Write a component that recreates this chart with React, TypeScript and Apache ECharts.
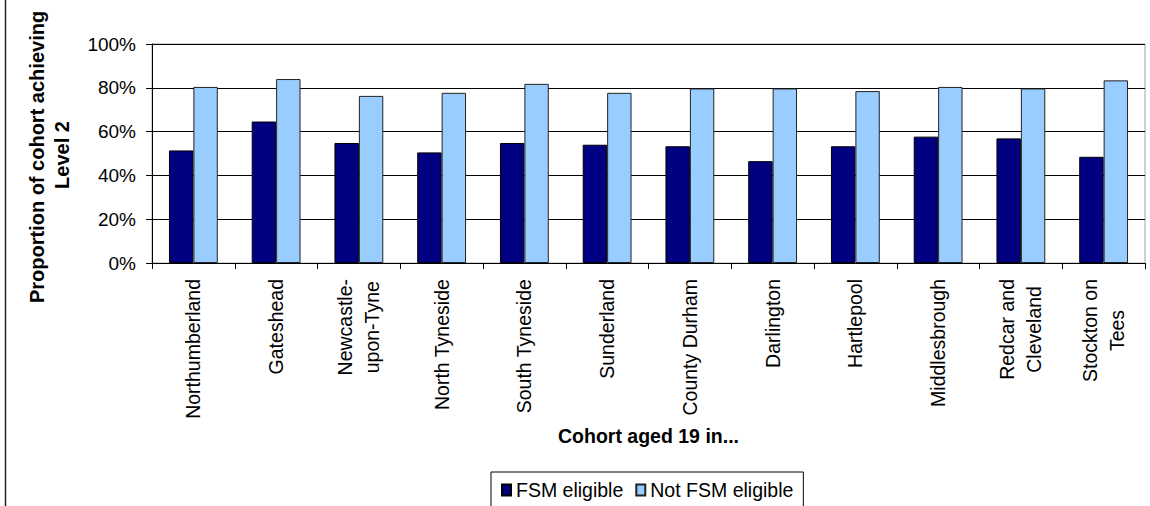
import React, { useEffect, useRef } from 'react';
import * as echarts from 'echarts';

const categories = [
  'Northumberland',
  'Gateshead',
  'Newcastle-\nupon-Tyne',
  'North Tyneside',
  'South Tyneside',
  'Sunderland',
  'County Durham',
  'Darlington',
  'Hartlepool',
  'Middlesbrough',
  'Redcar and\nCleveland',
  'Stockton on\nTees',
];
const fsmEligible = [51.4, 64.6, 54.8, 50.5, 54.8, 54.0, 53.3, 46.5, 53.3, 57.7, 56.9, 48.5];
const notFsmEligible = [80.4, 84.0, 76.3, 77.7, 81.8, 77.7, 79.7, 79.7, 78.5, 80.4, 79.7, 83.4];
const seriesNames = ['FSM eligible', 'Not FSM eligible'];
const yTitleLines = ['Proportion of cohort achieving', 'Level 2'];
const xTitle = 'Cohort aged 19 in...';

const FONT = '"Liberation Sans", Arial, sans-serif';

export default function App() {
  const ref = useRef<HTMLDivElement>(null);
  useEffect(() => {
    document.body.style.margin = '0';
    const chart = echarts.init(ref.current!, null, { renderer: 'svg' });
    chart.setOption({
      animation: false,
      backgroundColor: '#fff',
      textStyle: { fontFamily: FONT, color: '#000' },
      grid: {
        left: 152,
        right: 5,
        top: 44,
        bottom: 243,
        show: true,
        borderColor: '#a0a0a0',
        borderWidth: 1,
      },
      graphic: [
        { type: 'line', shape: { x1: 5.5, y1: 0, x2: 5.5, y2: 506 }, style: { stroke: '#222', lineWidth: 1.5 } },
        {
          type: 'text', x: 37, y: 157, rotation: Math.PI / 2,
          style: { text: yTitleLines[0], font: `bold 20px ${FONT}`, fill: '#000', align: 'center', verticalAlign: 'middle' },
        },
        {
          type: 'text', x: 62, y: 155, rotation: Math.PI / 2,
          style: { text: yTitleLines[1], font: `bold 20px ${FONT}`, fill: '#000', align: 'center', verticalAlign: 'middle' },
        },
      ],
      legend: {
        data: seriesNames,
        left: 491,
        top: 472,
        padding: [8, 10, 20, 10],
        itemWidth: 9,
        itemHeight: 11,
        itemGap: 12,
        icon: 'rect',
        borderColor: '#000',
        borderWidth: 1,
        backgroundColor: '#fff',
        textStyle: { fontSize: 19.5, fontFamily: FONT, color: '#000' },
      },
      xAxis: {
        type: 'category',
        data: categories,
        name: xTitle,
        nameLocation: 'middle',
        nameGap: 163,
        nameTextStyle: { fontSize: 19.5, fontWeight: 'bold', fontFamily: FONT, color: '#000' },
        axisLine: { show: true, lineStyle: { color: '#000', width: 1 } },
        axisTick: { show: true, length: 6, lineStyle: { color: '#000' } },
        axisLabel: {
          interval: 0,
          rotate: 90,
          margin: 16,
          fontSize: 19.5,
          lineHeight: 27,
          fontFamily: FONT,
          color: '#000',
          formatter: (v: string) => v.split('\n').map((s) => `{c|${s}}`).join('\n'),
          rich: { c: { align: 'center', fontSize: 19.5, lineHeight: 27, fontFamily: FONT, color: '#000' } },
        },
        splitLine: { show: false },
      },
      yAxis: {
        type: 'value',
        min: 0,
        max: 100,
        interval: 20,
        axisLine: { show: true, lineStyle: { color: '#000', width: 1 } },
        axisTick: { show: true, length: 6, lineStyle: { color: '#000' } },
        axisLabel: { formatter: '{value}%', fontSize: 19, margin: 16, fontFamily: FONT, color: '#000' },
        splitLine: { show: true, lineStyle: { color: '#000', width: 1 } },
      },
      series: [
        {
          name: seriesNames[0],
          type: 'bar',
          data: fsmEligible,
          barGap: '0%',
          barCategoryGap: '41%',
          itemStyle: { color: '#000080', borderColor: '#000', borderWidth: 1 },
        },
        {
          name: seriesNames[1],
          type: 'bar',
          data: notFsmEligible,
          barGap: '0%',
          barCategoryGap: '41%',
          itemStyle: { color: '#99CCFF', borderColor: '#222', borderWidth: 1 },
        },
      ],
    });
    return () => chart.dispose();
  }, []);
  return <div ref={ref} style={{ width: 1150, height: 506 }} />;
}
